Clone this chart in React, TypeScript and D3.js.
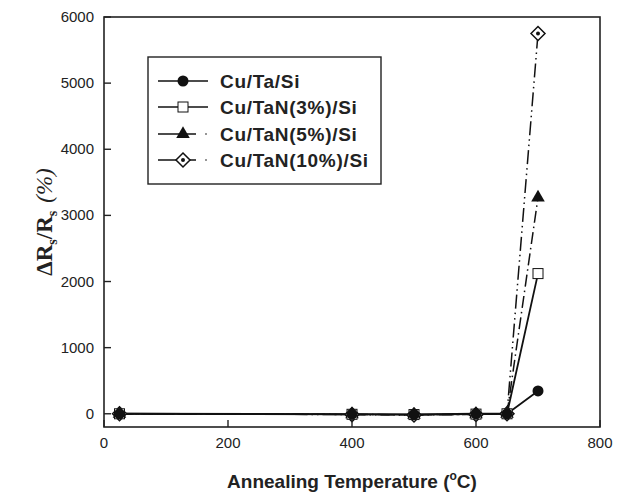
import React from "react";
import * as d3 from "d3";

const temps = [25, 400, 500, 600, 650, 700];
const cuTa = [0, -5, -10, 0, 0, 345];
const cuTaN3 = [0, -8, -12, -5, 0, 2120];
const cuTaN5 = [0, -10, -15, -8, 0, 3270];
const cuTaN10 = [0, -12, -18, -10, 0, 5750];
const seriesNames = ["Cu/Ta/Si", "Cu/TaN(3%)/Si", "Cu/TaN(5%)/Si", "Cu/TaN(10%)/Si"];
const xTicks = [0, 200, 400, 600, 800];
const yTicks = [0, 1000, 2000, 3000, 4000, 5000, 6000];

const W = 618, H = 500;
const m = { left: 104, right: 600, top: 17, bottom: 427 };

function Marker({ kind, x, y }: { kind: number; x: number; y: number }) {
  if (kind === 0) return <circle cx={x} cy={y} r={5.5} fill="#111" />;
  if (kind === 1) return <rect x={x - 5} y={y - 5} width={10} height={10} fill="#fff" stroke="#111" strokeWidth={1} />;
  if (kind === 2) {
    const p = d3.symbol().type(d3.symbolTriangle).size(80)();
    return <path d={p || ""} transform={`translate(${x},${y})`} fill="#111" />;
  }
  return (
    <g transform={`translate(${x},${y})`}>
      <path d="M0,-7L7,0L0,7L-7,0Z" fill="#fff" stroke="#111" strokeWidth={1.5} />
      <circle r={2} fill="#111" />
    </g>
  );
}

export default function App() {
  const x = d3.scaleLinear().domain([0, 800]).range([m.left, m.right]);
  const y = d3.scaleLinear().domain([-200, 6000]).range([m.bottom, m.top]);
  const data = [cuTa, cuTaN3, cuTaN5, cuTaN10];
  const dashes = ["none", "none", "12,4,1.5,4", "14,4,1.5,4,1.5,4"];
  const line = d3.line<number>().x((_, i) => x(temps[i])).y((d) => y(d));
  const legendY = [81, 107, 134, 160];
  const font = "'Liberation Sans', Arial, sans-serif";
  return (
    <svg width={W} height={H} style={{ position: "absolute", left: 0, top: 0 }}>
      <rect width={W} height={H} fill="#fff" />
      {data.map((s, k) => (
        <path key={k} d={line(s) || ""} fill="none" stroke="#111" strokeWidth={k < 2 ? 1.8 : 1.5} strokeDasharray={dashes[k]} />
      ))}
      {data.map((s, k) =>
        s.map((v, i) => <Marker key={`${k}-${i}`} kind={k} x={x(temps[i])} y={y(v)} />)
      ).reverse()}
      <rect x={m.left} y={m.top} width={m.right - m.left} height={m.bottom - m.top} fill="none" stroke="#222" strokeWidth={1.6} />
      {xTicks.map((t) => (
        <g key={t}>
          <line x1={x(t)} x2={x(t)} y1={m.bottom} y2={m.bottom - 7} stroke="#222" strokeWidth={1.4} />
          <text x={x(t)} y={m.bottom + 21} fontFamily={font} fontSize={15} textAnchor="middle" fill="#222">{t}</text>
        </g>
      ))}
      {yTicks.map((t) => (
        <g key={t}>
          <line x1={m.left} x2={m.left + 7} y1={y(t)} y2={y(t)} stroke="#222" strokeWidth={1.4} />
          <text x={m.left - 10} y={y(t) + 5} fontFamily={font} fontSize={15} textAnchor="end" fill="#222">{t}</text>
        </g>
      ))}
      <rect x={148} y={57} width={233} height={127} fill="#fff" stroke="#222" strokeWidth={1.4} />
      {seriesNames.map((n, k) => (
        <g key={n}>
          <line x1={158} x2={k < 2 ? 208 : 196} y1={legendY[k]} y2={legendY[k]} stroke="#111" strokeWidth={1.4} />
          {k >= 2 && <circle cx={206} cy={legendY[k]} r={0.8} fill="#111" />}
          <Marker kind={k} x={183} y={legendY[k]} />
          <text x={220} y={legendY[k] + 7} fontFamily={font} fontWeight="bold" fontSize={19} letterSpacing={0.7} fill="#222">{n}</text>
        </g>
      ))}
      <text x={(m.left + m.right) / 2} y={488} fontFamily={font} fontWeight="bold" fontSize={19} textAnchor="middle" fill="#222">
        Annealing Temperature (<tspan fontSize={12} dy={-8}>o</tspan><tspan dy={8}>C)</tspan>
      </text>
      <text transform={`translate(52,${(m.top + m.bottom) / 2}) rotate(-90)`} fontFamily="'Liberation Serif', 'Times New Roman', serif" fontWeight="bold" fontSize={23} textAnchor="middle" fill="#222">
        ΔR<tspan fontSize={14} dy={5}>s</tspan><tspan dy={-5}>/R</tspan><tspan fontSize={14} dy={5}>s</tspan><tspan dy={-5} fontWeight="normal" fontStyle="italic" dx={8}>(%)</tspan>
      </text>
    </svg>
  );
}
